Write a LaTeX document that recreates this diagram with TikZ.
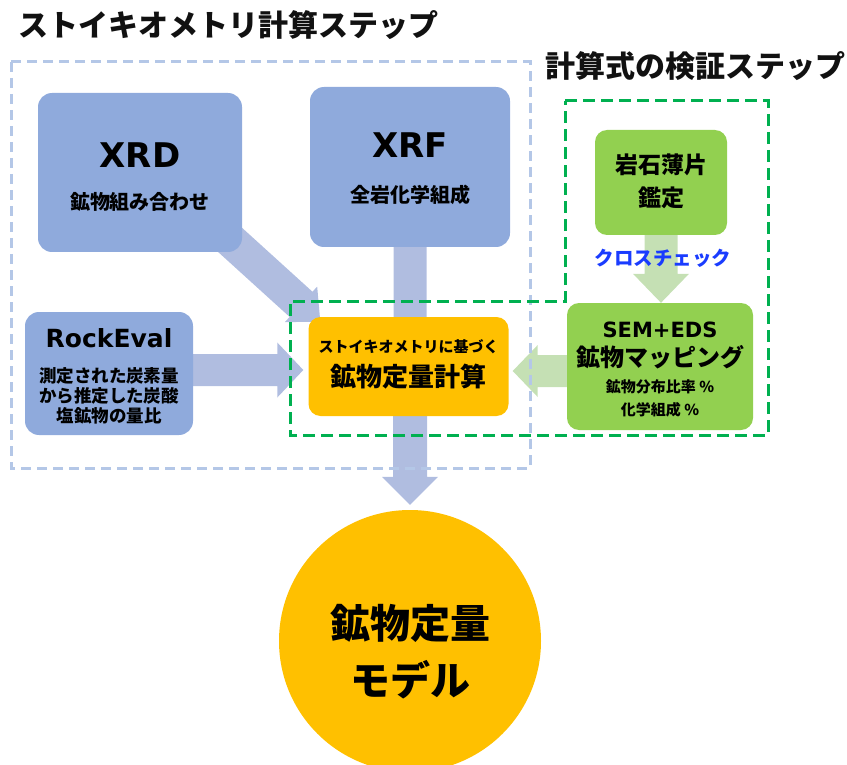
\documentclass[tikz,border=0pt]{standalone}
\usepackage{fontspec}
\setmainfont{Noto Sans CJK JP}
\newfontfamily\latb{DejaVu Sans}
\usetikzlibrary{calc}
\definecolor{boxblue}{HTML}{8FAADC}
\definecolor{arrblue}{HTML}{B0BDE0}
\definecolor{dashblue}{HTML}{B4C7E7}
\definecolor{boxgreen}{HTML}{92D050}
\definecolor{arrgreen}{HTML}{C5E0B4}
\definecolor{dashgreen}{HTML}{00B050}
\definecolor{calcorange}{HTML}{FFC000}
\definecolor{xblue}{HTML}{1A3CFF}
\definecolor{titlek}{HTML}{111111}
\newcommand\fsz[1]{\fontsize{#1}{#1}\selectfont}
\newcommand\blockarrow[6]{%
  \path (#1) coordinate (baA) (#2) coordinate (baB);
  \coordinate (baH) at ($(baB)!#5!(baA)$);
  \fill[#6] ($(baA)!#3!90:(baB)$) -- ($(baH)!#3!90:(baB)$) -- ($(baH)!#4!90:(baB)$)
    -- (baB) -- ($(baH)!#4!-90:(baB)$) -- ($(baH)!#3!-90:(baB)$) -- ($(baA)!#3!-90:(baB)$) -- cycle;
}
\pgfdeclarelayer{arrows}
\pgfdeclarelayer{frames}
\pgfsetlayers{arrows,frames,main}
\tikzset{
  bbox/.style={fill=boxblue, rounded corners=14pt, inner sep=0pt, draw=none},
  gbox/.style={fill=boxgreen, rounded corners=12pt, inner sep=0pt, draw=none},
  obox/.style={fill=calcorange, rounded corners=12pt, inner sep=0pt, draw=none},
  lbl/.style={inner sep=0pt, text=black},
  ttl/.style={inner sep=0pt, text=titlek, anchor=west, font=\bfseries\fsz{30}},
  bluedash/.style={draw=dashblue, line width=3pt, dash pattern=on 10pt off 6pt},
  greendash/.style={draw=dashgreen, line width=3pt, dash pattern=on 12pt off 6pt},
}
\begin{document}
\begin{tikzpicture}[x=1pt,y=-1pt]
\useasboundingbox (0,0) rectangle (847,765);

% titles
\node[ttl] (t1) at (18,25) {ストイキオメトリ計算ステップ};
\node[ttl] (t2) at (545,66) {計算式の検証ステップ};

% boxes
\node[bbox, minimum width=204pt, minimum height=159pt] (xrd) at (140,172.5) {};
\node[lbl, font=\latb\bfseries\fsz{34}] (xrdT) at (140,155) {XRD};
\node[lbl, font=\bfseries\fsz{20}] (xrdS) at (140,202) {鉱物組み合わせ};

\node[bbox, minimum width=200pt, minimum height=160pt] (xrf) at (410,167) {};
\node[lbl, font=\latb\bfseries\fsz{34}] (xrfT) at (410,145) {XRF};
\node[lbl, font=\bfseries\fsz{20}] (xrfS) at (410,195) {全岩化学組成};

\node[bbox, minimum width=168pt, minimum height=123pt] (rock) at (109,373.5) {};
\node[lbl, font=\latb\bfseries\fsz{25}] (rockT) at (109,338) {RockEval};
\node[lbl, font=\bfseries\fsz{17.5}] (rock1) at (109,376) {測定された炭素量};
\node[lbl, font=\bfseries\fsz{17.5}] (rock2) at (109,396) {から推定した炭酸};
\node[lbl, font=\bfseries\fsz{17.5}] (rock3) at (109,416) {塩鉱物の量比};

\node[obox, minimum width=200pt, minimum height=99pt] (calc) at (408.5,366.5) {};
\node[lbl, font=\bfseries\fsz{15}] (calcA) at (408.5,347) {ストイキオメトリに基づく};
\node[lbl, font=\bfseries\fsz{26}] (calcB) at (408.5,377) {鉱物定量計算};

\node[gbox, minimum width=132pt, minimum height=105pt] (thin) at (661,182.5) {};
\node[lbl, font=\bfseries\fsz{23}] (thinA) at (661,165) {岩石薄片};
\node[lbl, font=\bfseries\fsz{23}] (thinB) at (661,198) {鑑定};

\node[gbox, minimum width=186pt, minimum height=127pt] (sem) at (660,366.5) {};
\node[lbl, font=\latb\bfseries\fsz{21}] (semA) at (660,330) {SEM+EDS};
\node[lbl, font=\bfseries\fsz{24}] (semB) at (660,357) {鉱物マッピング};
\node[lbl, font=\bfseries\fsz{15}] (semC) at (660,387) {鉱物分布比率 \%};
\node[lbl, font=\bfseries\fsz{15}] (semD) at (660,410) {化学組成 \%};

\node[circle, fill=calcorange, minimum size=262pt, inner sep=0pt] (model) at (410,641) {};
\node[lbl, font=\bfseries\fsz{40}] (modelA) at (410,623) {鉱物定量};
\node[lbl, font=\bfseries\fsz{40}] (modelB) at (410,680) {モデル};

\node[lbl, text=xblue, font=\bfseries\fsz{19.5}] (cross) at (663,258) {クロスチェック};

% connector end points
\coordinate (xrdOut) at ($(xrd.south east)+(-14,-14)$);
\coordinate (xrdIn) at ($(calc.north west)+(12,5)$);
\coordinate (rockIn) at ($(calc.west)+(-5,3.5)$);
\coordinate (semIn) at ($(calc.east)+(4,4.5)$);
\coordinate (modelIn) at ($(model.north)+(0,-5)$);

\begin{pgfonlayer}{arrows}
  \blockarrow{xrdOut}{xrdIn}{17pt}{24pt}{26pt}{arrblue}
  \blockarrow{xrf.center}{xrf.center |- calc.center}{16.5pt}{28pt}{25pt}{arrblue}
  \blockarrow{rock.east |- rockIn}{rockIn}{16pt}{27.5pt}{26pt}{arrblue}
  \blockarrow{calc.south -| modelIn}{modelIn}{17pt}{28pt}{28pt}{arrblue}
  \blockarrow{sem.west |- semIn}{semIn}{16pt}{26pt}{25pt}{arrgreen}
  \blockarrow{thin.south}{thin.south |- sem.north}{16.5pt}{28pt}{29pt}{arrgreen}
\end{pgfonlayer}

\begin{pgfonlayer}{frames}
  \draw[bluedash] (11,62) rectangle (530,468);
  \draw[greendash] (565,101) -- (768,101) -- (768,435) -- (290,435) -- (290,301) -- (565,301) -- cycle;
\end{pgfonlayer}
\end{tikzpicture}
\end{document}
